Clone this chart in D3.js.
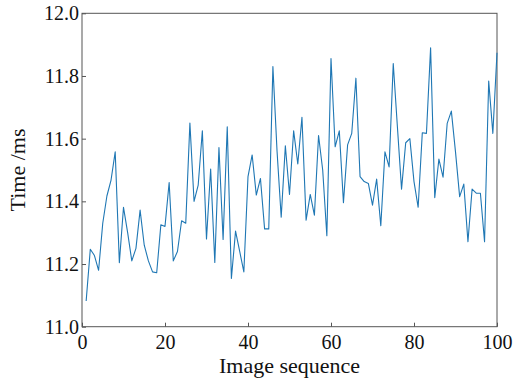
<!DOCTYPE html>
<html>
<head>
<meta charset="utf-8">
<script src="https://cdn.jsdelivr.net/npm/d3@7"></script>
<style>
  body { margin: 0; background: #fff; }
  svg text { font-family: "Liberation Serif", serif; fill: #111; }
  .title { font-size: 22px; }
  .tick text { font-size: 20px; }
</style>
</head>
<body>
<script>
const width = 513;
const height = 380;
const margin = { top: 13.3, right: 16, bottom: 53.3, left: 82 };

// image index 1..100
const seq = d3.range(1, 101);
const times = [
    11.082, 11.247, 11.227, 11.180, 11.330, 11.417, 11.468, 11.558, 11.204, 11.381,
    11.300, 11.210, 11.250, 11.372, 11.260, 11.210, 11.175, 11.172, 11.325, 11.320,
    11.460, 11.210, 11.240, 11.338, 11.330, 11.650, 11.400, 11.452, 11.625, 11.280,
    11.503, 11.205, 11.572, 11.278, 11.638, 11.154, 11.305, 11.240, 11.175, 11.479,
    11.548, 11.420, 11.473, 11.312, 11.312, 11.830, 11.560, 11.349, 11.577, 11.422,
    11.625, 11.519, 11.668, 11.340, 11.422, 11.356, 11.610, 11.500, 11.290, 11.856,
    11.574, 11.625, 11.396, 11.580, 11.617, 11.793, 11.479, 11.463, 11.457, 11.388,
    11.471, 11.322, 11.558, 11.510, 11.840, 11.638, 11.439, 11.587, 11.600, 11.463,
    11.381, 11.619, 11.617, 11.890, 11.412, 11.535, 11.477, 11.649, 11.688, 11.558,
    11.415, 11.455, 11.271, 11.439, 11.426, 11.426, 11.271, 11.784, 11.617, 11.874
];
const x_ticks = [0, 20, 40, 60, 80, 100];
const y_ticks = [11.0, 11.2, 11.4, 11.6, 11.8, 12.0];

const svg = d3.select('body').append('svg')
    .attr('width', width)
    .attr('height', height);

const x = d3.scaleLinear().domain([0, 100]).range([margin.left, width - margin.right]);
const y = d3.scaleLinear().domain([11.0, 12.0]).range([height - margin.bottom, margin.top]);

// frame
svg.append('rect')
    .attr('x', x(0))
    .attr('y', y(12))
    .attr('width', x(100) - x(0))
    .attr('height', y(11) - y(12))
    .attr('fill', 'none')
    .attr('stroke', '#555')
    .attr('stroke-width', 1);

const line = d3.line()
    .x((d, i) => x(seq[i]))
    .y((d) => y(d));

svg.append('path')
    .datum(times)
    .attr('fill', 'none')
    .attr('stroke', '#1f77b4')
    .attr('stroke-width', 1.1)
    .attr('stroke-linejoin', 'round')
    .attr('d', line);

function style_axis(g) {
    g.select('.domain').remove();
    g.attr('font-family', null).attr('font-size', null);
    g.selectAll('.tick line').attr('stroke', '#555');
    g.selectAll('.tick text')
        .attr('fill', '#111')
        .style('font-family', "'Liberation Serif', serif")
        .style('font-size', '20px');
}

svg.append('g')
    .attr('transform', `translate(0,${y(11)})`)
    .call(d3.axisBottom(x).tickValues(x_ticks).tickSizeInner(-4).tickSizeOuter(0).tickPadding(8))
    .call(style_axis);

svg.append('g')
    .attr('transform', `translate(${x(0)},0)`)
    .call(d3.axisLeft(y).tickValues(y_ticks).tickFormat(d3.format('.1f')).tickSizeInner(-4).tickSizeOuter(0).tickPadding(3))
    .call(style_axis);

svg.append('text')
    .attr('class', 'title')
    .attr('x', (x(0) + x(100)) / 2)
    .attr('y', 373)
    .attr('text-anchor', 'middle')
    .text('Image sequence');

svg.append('text')
    .attr('class', 'title')
    .attr('transform', `translate(25,${(y(11) + y(12)) / 2}) rotate(-90)`)
    .attr('text-anchor', 'middle')
    .text('Time /ms');
</script>
</body>
</html>
